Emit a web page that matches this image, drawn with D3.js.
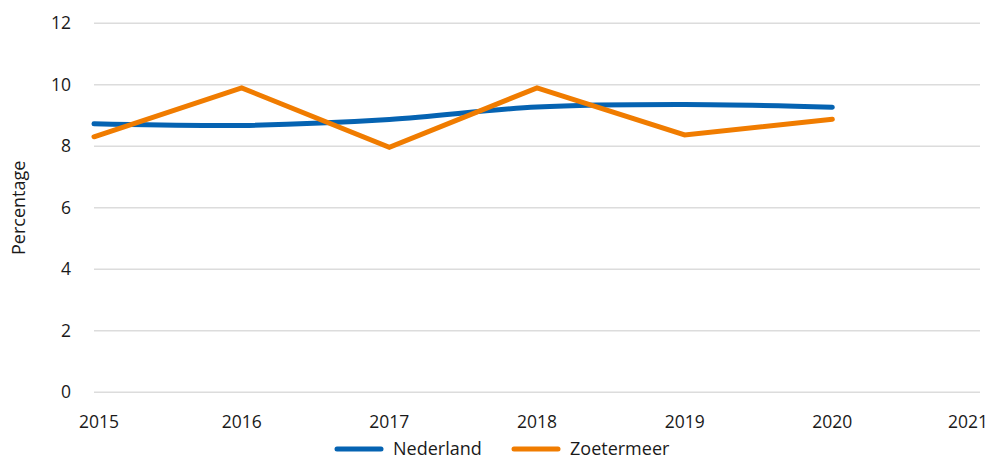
<!DOCTYPE html>
<html>
<head>
<meta charset="utf-8">
<script src="https://cdn.jsdelivr.net/npm/d3@7"></script>
<style>
  body { margin: 0; background: #fff; }
  svg text { font-family: "Open Sans", "Noto Sans", sans-serif; fill: #1a1a1a; }
</style>
</head>
<body>
<div id="chart"></div>
<script>
var years = [2015, 2016, 2017, 2018, 2019, 2020];
var nederland = [8.73, 8.68, 8.87, 9.28, 9.36, 9.27];
var zoetermeer = [8.31, 9.9, 7.97, 9.9, 8.37, 8.88];
var yTicks = [0, 2, 4, 6, 8, 10, 12];
var xTicks = [2015, 2016, 2017, 2018, 2019, 2020, 2021];

var width = 989, height = 459;
var svg = d3.select("#chart").append("svg")
  .attr("width", width)
  .attr("height", height);

var x = d3.scaleLinear().domain([2015, 2021]).range([94, 980]);
var y = d3.scaleLinear().domain([0, 12]).range([392.3, 23.3]);

// gridlines
svg.append("g")
  .selectAll("line")
  .data(yTicks)
  .join("line")
  .attr("x1", x(2015))
  .attr("x2", x(2021))
  .attr("y1", d => y(d))
  .attr("y2", d => y(d))
  .attr("stroke", "#dcdcdc")
  .attr("stroke-width", 1.5);

// y tick labels
svg.append("g")
  .selectAll("text")
  .data(yTicks)
  .join("text")
  .attr("x", 71)
  .attr("y", d => y(d))
  .attr("dy", "0.35em")
  .attr("text-anchor", "end")
  .style("font-size", "17.5px")
  .text(d => d);

// x tick labels
svg.append("g")
  .selectAll("text")
  .data(xTicks)
  .join("text")
  .attr("x", (d, i) => i == 0 ? x(d) + 5 : (i == xTicks.length - 1 ? x(d) - 12 : x(d)))
  .attr("y", 428)
  .attr("text-anchor", "middle")
  .style("font-size", "17.5px")
  .text(d => d);

// axis title
svg.append("text")
  .attr("transform", "translate(25," + y(6) + ") rotate(-90)")
  .attr("text-anchor", "middle")
  .style("font-size", "18px")
  .text("Percentage");

var lineSmooth = d3.line()
  .x((d, i) => x(years[i]))
  .y(d => y(d))
  .curve(d3.curveCatmullRom.alpha(0.5));

var lineStraight = d3.line()
  .x((d, i) => x(years[i]))
  .y(d => y(d));

svg.append("path")
  .datum(nederland)
  .attr("d", lineSmooth)
  .attr("fill", "none")
  .attr("stroke", "#0563b2")
  .attr("stroke-width", 5)
  .attr("stroke-linecap", "round");

svg.append("path")
  .datum(zoetermeer)
  .attr("d", lineStraight)
  .attr("fill", "none")
  .attr("stroke", "#f07c00")
  .attr("stroke-width", 5)
  .attr("stroke-linecap", "round")
  .attr("stroke-linejoin", "miter");

// legend
var legend = [
  { name: "Nederland", color: "#0563b2", x: 337 },
  { name: "Zoetermeer", color: "#f07c00", x: 514 }
];
var lg = svg.append("g").selectAll("g").data(legend).join("g")
  .attr("transform", d => "translate(" + d.x + ",449)");
lg.append("line")
  .attr("x1", 0).attr("x2", 44)
  .attr("stroke", d => d.color)
  .attr("stroke-width", 5)
  .attr("stroke-linecap", "round");
lg.append("text")
  .attr("x", 56)
  .attr("dy", "0.35em")
  .style("font-size", "18px")
  .text(d => d.name);
</script>
</body>
</html>
